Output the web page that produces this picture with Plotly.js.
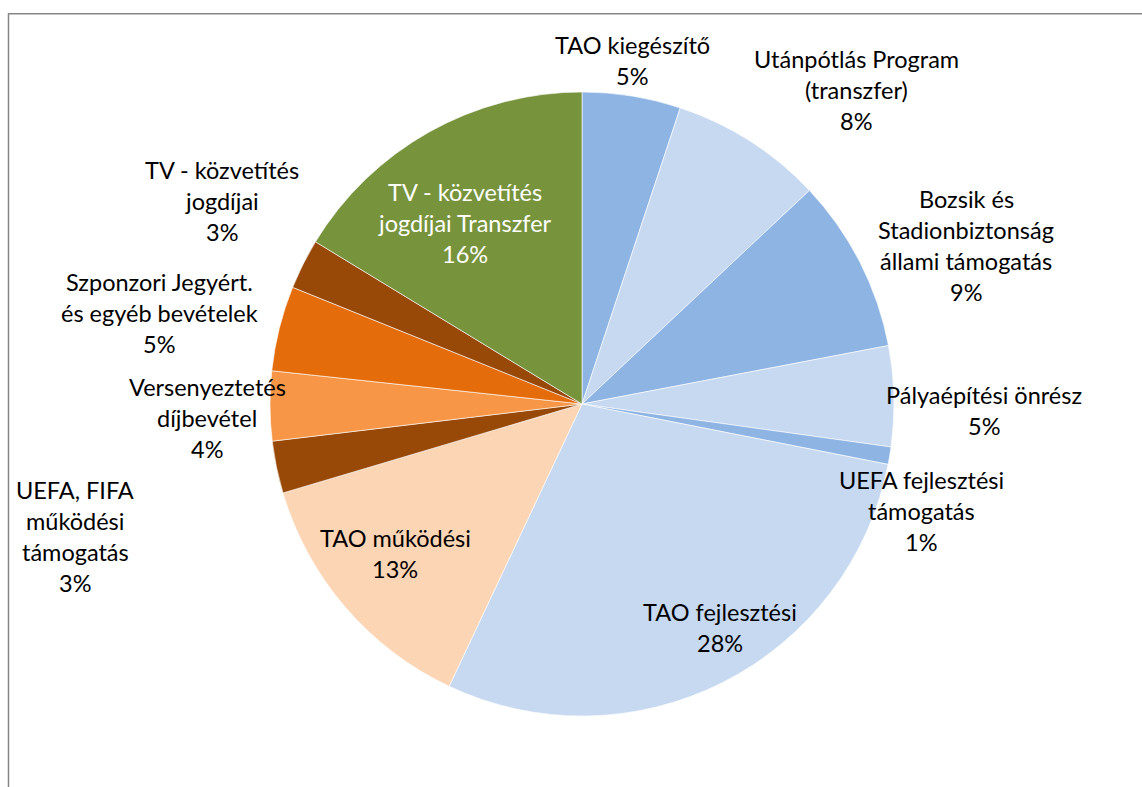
<!DOCTYPE html>
<html>
<head>
<meta charset="utf-8">
<script src="https://cdn.plot.ly/plotly-3.0.1.min.js"></script>
<style>
html,body{margin:0;padding:0;background:#fff;}
#chart{width:1142px;height:787px;}
</style>
</head>
<body>
<div id="chart"></div>
<script>
// Slice names (clockwise from 12 o'clock)
const categories = [
  "TAO kiegészítő",
  "Utánpótlás Program<br>(transzfer)",
  "Bozsik és<br>Stadionbiztonság<br>állami támogatás",
  "Pályaépítési önrész",
  "UEFA fejlesztési<br>támogatás",
  "TAO fejlesztési",
  "TAO működési",
  "UEFA, FIFA<br>működési<br>támogatás",
  "Versenyeztetés<br>díjbevétel",
  "Szponzori Jegyért.<br>és egyéb bevételek",
  "TV - közvetítés<br>jogdíjai",
  "TV - közvetítés<br>jogdíjai Transzfer"
];
// Slice sizes (percent of the whole)
const values = [5.1, 7.9, 9.0, 5.2, 0.9, 28.9, 13.4, 2.7, 3.6, 4.4, 2.6, 16.3];
// Percent labels as printed on the chart
const percentLabels = ["5%", "8%", "9%", "5%", "1%", "28%", "13%", "3%", "4%", "5%", "3%", "16%"];

const colors = ["#8EB4E3", "#C6D9F1", "#8EB4E3", "#C6D9F1", "#8EB4E3", "#C6D9F1",
                "#FCD5B5", "#984807", "#F79646", "#E46C0A", "#984807", "#77933C"];
const textColors = ["#000","#000","#000","#000","#000","#000","#000","#000","#000","#000","#000","#fff"];

// label anchor (pixel centre x, centre y of first line)
const labelAnchors = [
  [632, 45], [856, 59], [966, 199], [984, 395], [921, 480], [720, 612],
  [395, 538], [75, 490], [207, 387], [159, 282], [222, 170], [465, 192]
];

const W = 1142, H = 787;
const px = x => x / W;
const py = y => 1 - y / H;
const LINE = 31;

const annotations = [];
categories.forEach((c, i) => {
  const lines = c.split("<br>").concat([percentLabels[i]]);
  lines.forEach((t, j) => {
    annotations.push({
      xref: "paper", yref: "paper",
      x: px(labelAnchors[i][0]), y: py(labelAnchors[i][1] + j * LINE),
      xanchor: "center", yanchor: "middle",
      text: t, showarrow: false,
      font: {family: "Lato, 'Open Sans', sans-serif", size: 23.5, color: textColors[i]}
    });
  });
});

const trace = {
  type: "pie",
  labels: categories.map(c => c.replace(/<br>/g, " ")),
  values: values,
  sort: false,
  direction: "clockwise",
  rotation: 0,
  textinfo: "none",
  hoverinfo: "label+percent",
  marker: {colors: colors, line: {color: "#ffffff", width: 0.6}},
  domain: {x: [px(270), px(894)], y: [py(716), py(92)]},
  showlegend: false
};

const layout = {
  width: W, height: H,
  margin: {l: 0, r: 0, t: 0, b: 0},
  paper_bgcolor: "#ffffff",
  showlegend: false,
  annotations: annotations,
  shapes: [{
    type: "rect", xref: "paper", yref: "paper",
    x0: px(8.5), y0: py(13.8), x1: px(1160), y1: py(800),
    line: {color: "#868686", width: 1.5}, fillcolor: "rgba(0,0,0,0)"
  }]
};

Plotly.newPlot("chart", [trace], layout, {staticPlot: true});
</script>
</body>
</html>
